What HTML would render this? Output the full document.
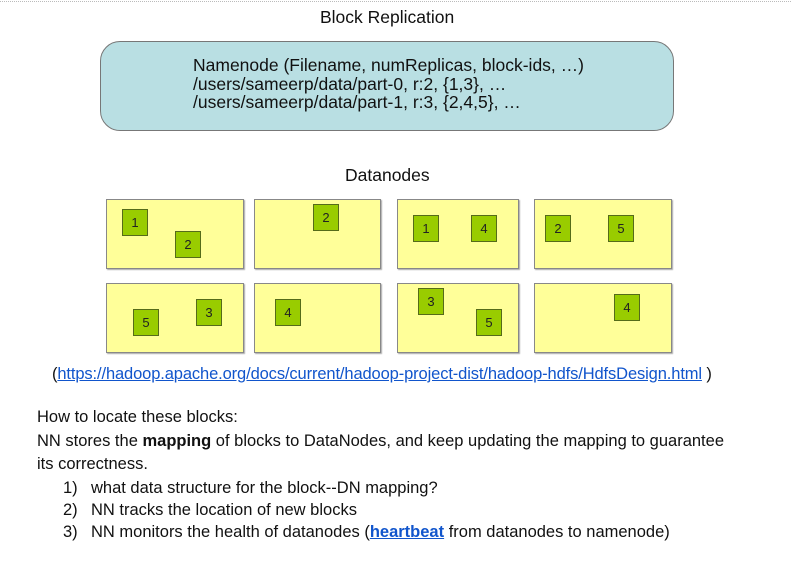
<!DOCTYPE html>
<html><head><meta charset="utf-8"><style>
body{margin:0;width:791px;height:561px;background:#fff;position:relative;overflow:hidden;font-family:"Liberation Sans",Arial,sans-serif;color:#111}
.a{position:absolute;white-space:nowrap}
.dn{position:absolute;background:#ffff99;border:1px solid #888;box-shadow:1px 1px 1px #aaa;box-sizing:border-box}
.b{position:absolute;width:26px;height:27px;background:#99cc00;border:1px solid #556b1a;box-sizing:border-box;font-size:13px;text-align:center;line-height:25px;color:#222}
a{color:#1155cc}
</style></head><body>
<div style="position:absolute;left:0;top:1px;width:791px;border-top:1px dotted #bbb"></div>
<div class="a" style="left:320px;top:7px;font-size:17.5px">Block Replication</div>
<div style="position:absolute;left:100px;top:41px;width:574px;height:90px;background:#b9dfe3;border:1px solid #777;border-radius:20px;box-sizing:border-box"></div>
<div class="a" style="left:193px;top:56px;font-size:17.5px;line-height:18.5px;letter-spacing:0px">Namenode (Filename, numReplicas, block-ids, …)<br>/users/sameerp/data/part-0, r:2, {1,3}, …<br>/users/sameerp/data/part-1, r:3, {2,4,5}, …</div>
<div class="a" style="left:345px;top:165px;font-size:17.5px">Datanodes</div>

<div class="dn" style="left:106px;top:199px;width:138px;height:70px"></div>
<div class="dn" style="left:254px;top:199px;width:127px;height:70px"></div>
<div class="dn" style="left:397px;top:199px;width:122px;height:70px"></div>
<div class="dn" style="left:534px;top:199px;width:138px;height:70px"></div>
<div class="dn" style="left:106px;top:283px;width:138px;height:70px"></div>
<div class="dn" style="left:254px;top:283px;width:127px;height:70px"></div>
<div class="dn" style="left:397px;top:283px;width:122px;height:70px"></div>
<div class="dn" style="left:534px;top:283px;width:138px;height:70px"></div>

<div class="b" style="left:122px;top:209px">1</div>
<div class="b" style="left:175px;top:231px">2</div>
<div class="b" style="left:313px;top:204px">2</div>
<div class="b" style="left:413px;top:215px">1</div>
<div class="b" style="left:471px;top:215px">4</div>
<div class="b" style="left:545px;top:215px">2</div>
<div class="b" style="left:608px;top:215px">5</div>
<div class="b" style="left:133px;top:309px">5</div>
<div class="b" style="left:196px;top:299px">3</div>
<div class="b" style="left:275px;top:299px">4</div>
<div class="b" style="left:418px;top:288px">3</div>
<div class="b" style="left:476px;top:309px">5</div>
<div class="b" style="left:614px;top:294px">4</div>

<div class="a" style="left:52px;top:365px;font-size:16.5px;letter-spacing:-0.12px">(<a href="#">https://hadoop.apache.org/docs/current/hadoop-project-dist/hadoop-hdfs/HdfsDesign.html</a> )</div>
<div class="a" style="left:37px;top:406px;font-size:16.5px;line-height:23.5px">How to locate these blocks:<br>NN stores the <b>mapping</b> of blocks to DataNodes, and keep updating the mapping to guarantee<br>its correctness.</div>
<div class="a" style="left:63px;top:477px;font-size:16.5px;line-height:22px">1)<br>2)<br>3)</div>
<div class="a" style="left:91px;top:477px;font-size:16.5px;line-height:22px">what data structure for the block--DN mapping?<br>NN tracks the location of new blocks<br>NN monitors the health of datanodes (<a href="#"><b>heartbeat</b></a> from datanodes to namenode)</div>
</body></html>
